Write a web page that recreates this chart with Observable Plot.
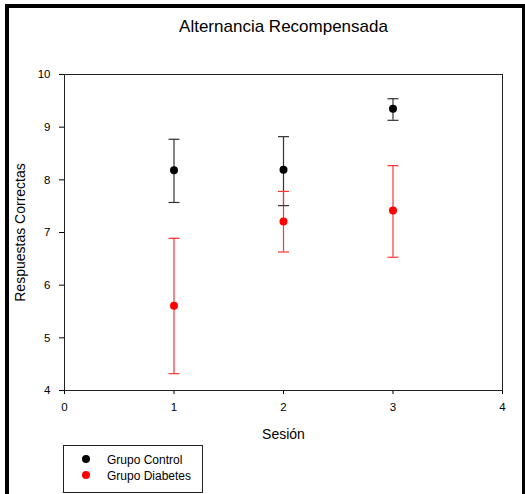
<!DOCTYPE html>
<html>
<head>
<meta charset="utf-8">
<script src="https://cdn.jsdelivr.net/npm/d3@7"></script>
<script src="https://cdn.jsdelivr.net/npm/@observablehq/plot@0.6"></script>
<style>
  html, body { margin: 0; padding: 0; background: #fff; }
  #chart svg { display: block; }
</style>
</head>
<body>
<div id="chart"></div>
<script>
const title = "Alternancia Recompensada";
const xLabel = "Sesión";
const yLabel = "Respuestas Correctas";
const sessions = [1, 2, 3];
const groups = ["Grupo Control", "Grupo Diabetes"];
const groupColors = ["#000000", "#ff0000"];
const barColors = ["#333333", "#ff3333"];
const controlMean = [8.18, 8.19, 9.35];
const controlLow = [7.57, 7.51, 9.13];
const controlHigh = [8.77, 8.82, 9.54];
const diabetesMean = [5.61, 7.21, 7.42];
const diabetesLow = [4.32, 6.63, 6.53];
const diabetesHigh = [6.89, 7.78, 8.27];
const xTicks = [0, 1, 2, 3, 4];
const yTicks = [4, 5, 6, 7, 8, 9, 10];

const rows = [];
sessions.forEach((s, i) => {
  rows.push({s, g: groups[0], m: controlMean[i], lo: controlLow[i], hi: controlHigh[i]});
  rows.push({s, g: groups[1], m: diabetesMean[i], lo: diabetesLow[i], hi: diabetesHigh[i]});
});

const cap = {draw(ctx) { ctx.moveTo(-5.5, 0); ctx.lineTo(5.5, 0); }};
const font = "'Liberation Sans', Arial, sans-serif";

const plot = Plot.plot({
  width: 525,
  height: 494,
  marginLeft: 64,
  marginRight: 23,
  marginTop: 74,
  marginBottom: 104,
  style: {fontFamily: font, fontSize: "11.5px", color: "#000", background: "#fff"},
  x: {domain: [0, 4], ticks: xTicks, tickFormat: "d", tickSize: 4, tickPadding: 8, label: null},
  y: {domain: [4, 10], ticks: yTicks, tickFormat: "d", tickSize: 5, tickPadding: 9, label: null},
  color: {domain: groups, range: barColors},
  marks: [
    Plot.frame({stroke: "#222", strokeWidth: 1}),
    Plot.ruleX(rows, {x: "s", y1: "lo", y2: "hi", stroke: "g", strokeWidth: 1.2}),
    Plot.dot(rows, {x: "s", y: "lo", symbol: cap, stroke: "g", strokeWidth: 1.2}),
    Plot.dot(rows, {x: "s", y: "hi", symbol: cap, stroke: "g", strokeWidth: 1.2}),
    Plot.dot(rows, {x: "s", y: "m", r: 4, fill: d => groupColors[groups.indexOf(d.g)], stroke: "none"}),
    Plot.text([title], {frameAnchor: "top", dy: -55, fontSize: 17, fill: "#000"}),
    Plot.text([xLabel], {frameAnchor: "bottom", dy: 48, fontSize: 14, fill: "#000"}),
    Plot.text([yLabel], {frameAnchor: "left", textAnchor: "middle", dx: -44, rotate: -90, fontSize: 14, fill: "#000"})
  ]
});

const svg = d3.select(plot);
// outer border
svg.append("rect").attr("x", 7).attr("y", 6).attr("width", 517).attr("height", 600)
  .attr("fill", "none").attr("stroke", "#000").attr("stroke-width", 4);
// legend
const lg = svg.append("g").attr("font-family", font).attr("font-size", 12).attr("text-anchor", "start");
lg.append("rect").attr("x", 63.5).attr("y", 445.5).attr("width", 139).attr("height", 47)
  .attr("fill", "#fff").attr("stroke", "#222").attr("stroke-width", 1);
groups.forEach((g, i) => {
  const y = 459 + i * 16;
  lg.append("circle").attr("cx", 86).attr("cy", y).attr("r", 4).attr("fill", groupColors[i]);
  lg.append("text").attr("x", 107).attr("y", y + 4.5).attr("fill", "#000").text(g);
});
document.getElementById("chart").append(plot);
</script>
</body>
</html>
